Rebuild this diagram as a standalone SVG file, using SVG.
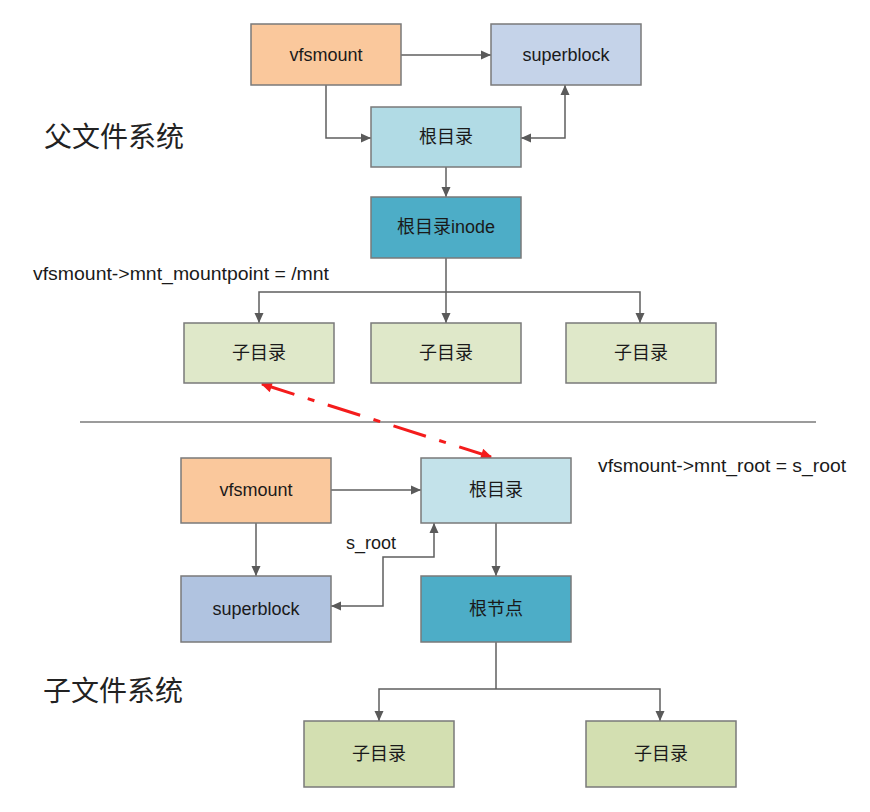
<svg xmlns="http://www.w3.org/2000/svg" width="870" height="812" viewBox="0 0 870 812">
<defs>
<marker id="ah" viewBox="0 0 10 10" refX="10" refY="5" markerWidth="10" markerHeight="10" markerUnits="userSpaceOnUse" orient="auto-start-reverse">
<path d="M0,0.5 L10,5 L0,9.5 Z" fill="#5a5a5a"/>
</marker>
<marker id="ahr" viewBox="0 0 10 10" refX="9" refY="5" markerWidth="15" markerHeight="11" markerUnits="userSpaceOnUse" orient="auto-start-reverse">
<path d="M0,0 L10,5 L0,10 Z" fill="#f41c1c"/>
</marker>
<style>
.box{stroke:#7a7a7a;stroke-width:1.5}
.t{font-family:"Liberation Sans","Noto Sans CJK SC",sans-serif;font-size:18px;fill:#1a1a1a;text-anchor:middle}
.lab{font-family:"Liberation Sans","Noto Sans CJK SC",sans-serif;font-size:18px;fill:#1a1a1a}
.title{font-family:"Noto Sans CJK SC",sans-serif;font-size:28px;fill:#222}
.c{fill:none;stroke:#5f5f5f;stroke-width:1.5}
</style>
</defs>
<rect width="870" height="812" fill="#ffffff"/>

<text class="title" x="44" y="147">父文件系统</text>
<text class="title" x="43" y="701">子文件系统</text>
<line x1="80" y1="422" x2="816" y2="422" stroke="#7a7a7a" stroke-width="1.5"/>

<g id="connectors">
<path class="c" d="M401 55 H491" marker-end="url(#ah)"/>
<path class="c" d="M326 85 V138 H371" marker-end="url(#ah)"/>
<path class="c" d="M521 138 H565 V85" marker-start="url(#ah)" marker-end="url(#ah)"/>
<path class="c" d="M446 167 V197" marker-end="url(#ah)"/>
<path class="c" d="M446 258 V323" marker-end="url(#ah)"/>
<path class="c" d="M259 323 V292 H640 V323" marker-start="url(#ah)" marker-end="url(#ah)"/>
<path d="M262 384 L491 457" fill="none" stroke="#f41c1c" stroke-width="3" stroke-dasharray="34 14 7 14" marker-start="url(#ahr)" marker-end="url(#ahr)"/>
<path class="c" d="M331 490 H421" marker-end="url(#ah)"/>
<path class="c" d="M256 523 V576" marker-end="url(#ah)"/>
<path class="c" d="M496 523 V576" marker-end="url(#ah)"/>
<path class="c" d="M331 606 H383 V557 H434 V523" marker-start="url(#ah)" marker-end="url(#ah)"/>
<path class="c" d="M496 642 V689"/>
<path class="c" d="M379 721 V689 H660 V721" marker-start="url(#ah)" marker-end="url(#ah)"/>
</g>

<text class="lab" x="33" y="280" textLength="296" lengthAdjust="spacingAndGlyphs">vfsmount-&gt;mnt_mountpoint = /mnt</text>
<text class="lab" x="598" y="472" textLength="248" lengthAdjust="spacingAndGlyphs">vfsmount-&gt;mnt_root = s_root</text>
<text class="lab" x="346" y="549">s_root</text>

<g id="p_vfsmount"><rect class="box" x="251" y="24" width="150" height="61" fill="#fac89c"/><text class="t" x="326" y="61">vfsmount</text></g>
<g id="p_superblock"><rect class="box" x="491" y="24" width="150" height="61" fill="#c5d3e9"/><text class="t" x="566" y="61">superblock</text></g>
<g id="p_root"><rect class="box" x="371" y="107" width="150" height="60" fill="#b1dbe5"/><text class="t" x="446" y="143">根目录</text></g>
<g id="p_inode"><rect class="box" x="371" y="197" width="150" height="61" fill="#4dadc7"/><text class="t" x="446" y="233">根目录inode</text></g>
<g id="p_child1"><rect class="box" x="184" y="323" width="150" height="60" fill="#dfe8c9"/><text class="t" x="259" y="359">子目录</text></g>
<g id="p_child2"><rect class="box" x="371" y="323" width="150" height="60" fill="#dfe8c9"/><text class="t" x="446" y="359">子目录</text></g>
<g id="p_child3"><rect class="box" x="566" y="323" width="150" height="60" fill="#dfe8c9"/><text class="t" x="641" y="359">子目录</text></g>

<g id="c_vfsmount"><rect class="box" x="181" y="458" width="150" height="65" fill="#fac89c"/><text class="t" x="256" y="496">vfsmount</text></g>
<g id="c_root"><rect class="box" x="421" y="458" width="150" height="65" fill="#c3e2ea"/><text class="t" x="496" y="496">根目录</text></g>
<g id="c_superblock"><rect class="box" x="181" y="576" width="150" height="66" fill="#b0c3e0"/><text class="t" x="256" y="615">superblock</text></g>
<g id="c_rootnode"><rect class="box" x="421" y="576" width="150" height="66" fill="#4dadc7"/><text class="t" x="496" y="615">根节点</text></g>
<g id="c_child1"><rect class="box" x="304" y="721" width="150" height="66" fill="#d3dfb1"/><text class="t" x="379" y="760">子目录</text></g>
<g id="c_child2"><rect class="box" x="586" y="721" width="150" height="66" fill="#d3dfb1"/><text class="t" x="661" y="760">子目录</text></g>
</svg>
